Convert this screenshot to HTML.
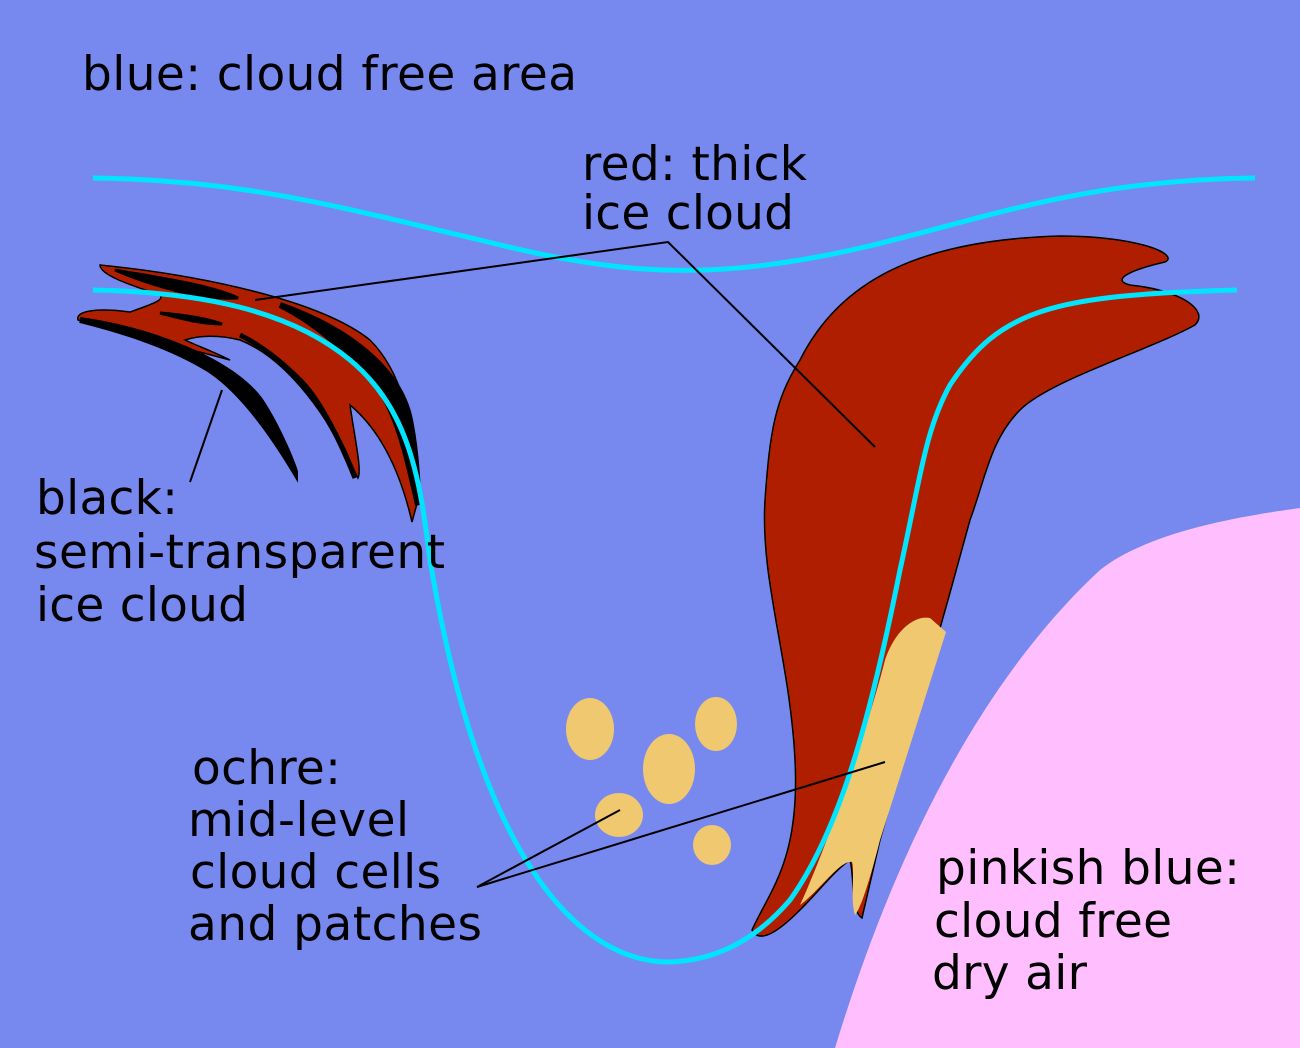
<!DOCTYPE html>
<html><head><style>html,body{margin:0;padding:0;background:#7789ee}svg{display:block}text{font-family:"DejaVu Sans","Liberation Sans",sans-serif;font-size:47px;fill:#000}</style></head><body>
<svg width="1300" height="1048" viewBox="0 0 1300 1048">
<rect width="1300" height="1048" fill="#7789ee"/>
<path d="M835,1048 C880,900 960,700 1100,570 C1150,530 1250,515 1300,508 L1300,1048 Z" fill="#ffbfff"/>
<path d="M93,178 C250,180 350,210 480,240 C600,270 680,280 800,260 C950,235 1050,180 1255,178" fill="none" stroke="#00e5ff" stroke-width="5"/>
<path d="M100,265 C200,275 320,300 370,340 C400,370 415,420 418,500 L412,522 C400,470 380,430 350,405 C355,440 362,470 358,478 C330,420 290,360 240,340 C220,335 200,335 185,340 C195,345 210,350 230,360 L78,320 C75,310 100,308 130,312 C150,305 165,300 160,295 C130,285 100,275 100,265 Z" fill="#b01e00" stroke="#000" stroke-width="1.5"/>
<path d="M80,320 C150,330 230,360 260,400 C280,430 295,470 295,472 C270,430 240,390 210,370 C170,345 120,330 80,320 Z" fill="#000" stroke="#000" stroke-width="6"/>
<path d="M280,305 C350,330 400,370 410,420 C418,460 418,500 418,505 C410,470 400,420 380,390 C350,350 310,320 280,305 Z" fill="#000" stroke="#000" stroke-width="6"/>
<path d="M240,335 C290,360 330,410 355,478 C340,440 320,400 300,380 C280,360 260,345 240,335 Z" fill="#000" stroke="#000" stroke-width="5"/>
<path d="M115,270 C160,278 210,285 238,298 C200,300 150,285 115,270 Z" fill="#000" stroke="#000" stroke-width="3"/>
<path d="M160,313 C185,315 205,318 222,324 C200,324 180,318 160,313 Z" fill="#000" stroke="#000" stroke-width="3"/>
<path d="M800,360 C840,280 920,240 1060,236 C1140,236 1180,255 1165,262 C1130,270 1110,280 1130,285 C1180,290 1210,310 1195,325 C1150,350 1050,380 1020,410 C990,440 985,480 970,520 L948,600 L880,840 L862,918 C850,910 855,880 850,860 C835,870 820,890 800,910 C780,930 760,945 752,930 C770,890 800,860 795,760 C790,660 760,580 765,500 C770,430 775,400 800,360 Z" fill="#b01e00" stroke="#000" stroke-width="1.5"/>
<path d="M885,660 C895,630 915,615 930,618 L946,632 L880,840 C870,880 860,910 855,915 C850,900 855,870 852,862 C840,860 820,890 800,905 C830,840 870,720 885,660 Z" fill="#f0c870"/>
<path d="M93,290 C200,292 290,310 350,360 C410,410 420,480 430,560 C450,680 480,780 520,850 C560,920 610,960 665,962 C720,962 760,935 790,900 C840,830 870,720 900,570 C920,480 925,430 950,385 C1000,310 1050,295 1237,290" fill="none" stroke="#00e5ff" stroke-width="5"/>
<g fill="#f0c870"><ellipse cx="590" cy="729" rx="24" ry="31"/><ellipse cx="669" cy="769" rx="26" ry="35"/><ellipse cx="716" cy="724" rx="21" ry="27"/><ellipse cx="619" cy="815" rx="24" ry="22"/><ellipse cx="712" cy="845" rx="19" ry="20"/></g>
<g stroke="#000" stroke-width="2" fill="none"><path d="M255,300 L668,242 L875,447"/><path d="M190,482 L222,390"/><path d="M620,810 L477,887 L885,762"/></g>
<text x="82" y="90" textLength="495">blue: cloud free area</text>
<text x="582" y="180" textLength="225">red: thick</text><text x="582" y="229" textLength="212">ice cloud</text>
<text x="36" y="514" textLength="142">black:</text><text x="34" y="568" textLength="411">semi-transparent</text><text x="36" y="621" textLength="212">ice cloud</text>
<text x="192" y="784" textLength="149">ochre:</text><text x="188" y="836" textLength="221">mid-level</text><text x="190" y="888" textLength="251">cloud cells</text><text x="188" y="940" textLength="294">and patches</text>
<text x="936" y="884" textLength="304">pinkish blue:</text><text x="934" y="937" textLength="238">cloud free</text><text x="932" y="989" textLength="155">dry air</text>
</svg>
</body></html>
